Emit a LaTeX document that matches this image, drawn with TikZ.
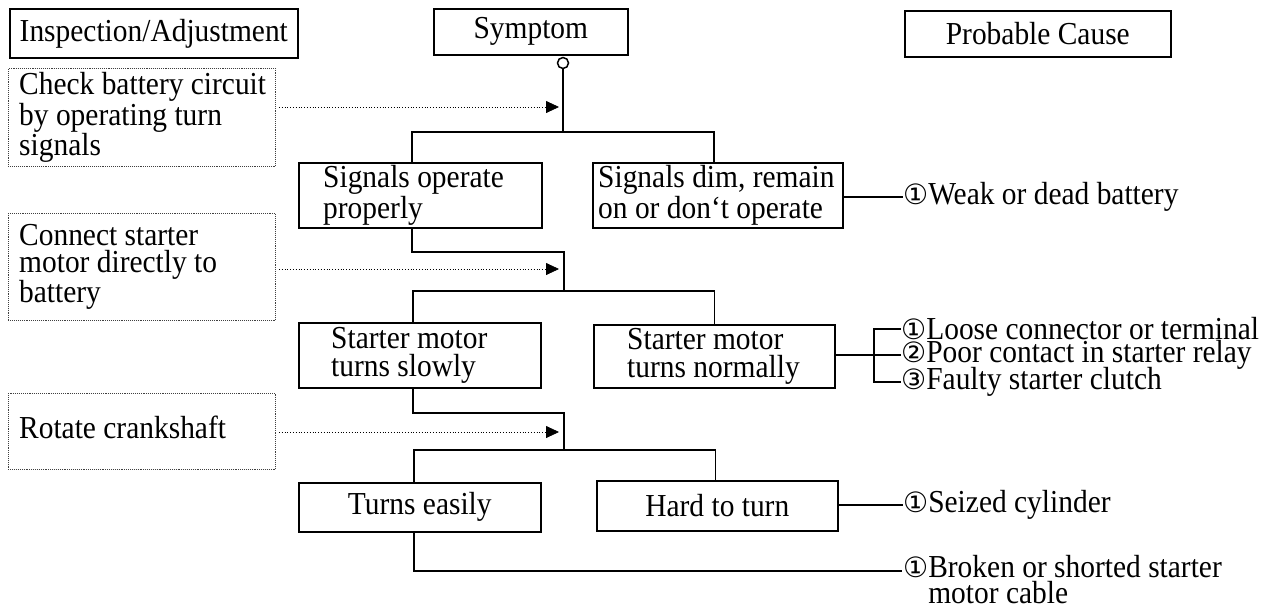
\documentclass[tikz,border=0pt]{standalone}
\usepackage{fontspec}
\setmainfont{Liberation Serif}[FakeStretch=0.92]
\newfontfamily\symfont{DejaVu Sans}
\usetikzlibrary{arrows.meta}
\newcommand\cn[1]{{\symfont\fontsize{28}{28}\selectfont #1}}
\begin{document}
\begin{tikzpicture}[x=1pt,y=-1pt,
  every node/.style={font=\fontsize{32}{27.5}\selectfont},
  hbox/.style={draw, line width=1.6pt, inner sep=0pt, anchor=north west},
  ibox/.style={draw=black!75, densely dotted, line width=0.9pt, inner sep=0pt, anchor=north west},
  txt/.style={inner sep=0pt, anchor=west, align=left},
  cause/.style={inner sep=0pt, anchor=west},
  conn/.style={line width=1.6pt},
  probe/.style={dotted, line width=0.8pt, -{Triangle[length=13pt,width=12pt]}},
]
\useasboundingbox (0,0) rectangle (1270,606);

% headers
\node[hbox, minimum width=288, minimum height=49] (hIA) at (9,8) {Inspection/Adjustment};
\node[hbox, minimum width=194, minimum height=46] (hS) at (433,8) {Symptom};
\node[hbox, minimum width=266, minimum height=46] (hPC) at (904,10) {Probable Cause};

% inspection boxes
\node[ibox, minimum width=267, minimum height=98] (ia1) at (8,68) {};
\node[txt] (ia1t) at ([xshift=11pt]ia1.west) {Check battery circuit\\by operating turn\\signals};
\node[ibox, minimum width=267, minimum height=107] (ia2) at (8,213) {};
\node[txt] (ia2t) at ([xshift=11pt]ia2.west) {Connect starter\\motor directly to\\battery};
\node[ibox, minimum width=267, minimum height=76] (ia3) at (8,393) {};
\node[txt] (ia3t) at ([xshift=11pt,yshift=4pt]ia3.west) {Rotate crankshaft};

% symptom boxes
\node[hbox, minimum width=243, minimum height=65] (L1) at (298,162) {};
\node[txt] (L1t) at ([xshift=25pt]L1.west) {Signals operate\\properly};
\node[hbox, minimum width=250, minimum height=65] (R1) at (592,162) {};
\node[txt] (R1t) at ([xshift=6pt]R1.west) {Signals dim, remain\\on or don‘t operate};

\node[hbox, minimum width=242, minimum height=65] (L2) at (298,322) {};
\node[txt] (L2t) at ([xshift=33pt]L2.west) {Starter motor\\turns slowly};
\node[hbox, minimum width=241, minimum height=63] (R2) at (593,324) {};
\node[txt] (R2t) at ([xshift=34pt]R2.west) {Starter motor\\turns normally};

\node[hbox, minimum width=242, minimum height=49] (L3) at (298,482) {Turns easily};
\node[hbox, minimum width=241, minimum height=50] (R3) at (596,480) {Hard to turn};

% circle under Symptom
\node[circle, draw, line width=1.5pt, fill=white, minimum size=11pt, inner sep=0pt] (o) at (563,63) {};

% tree connectors
\coordinate (j1) at (563,132);
\draw[conn] (o.south) -- (j1);
\draw[conn] ([xshift=-8.5pt]L1.north) |- (j1) -| ([xshift=-4pt]R1.north);

\coordinate (k2) at (564,252);
\coordinate (j2) at (564,291);
\draw[conn] ([xshift=-8.5pt]L1.south) |- (k2) -- (j2);
\draw[conn] ([xshift=-7pt]L2.north) |- (j2) -| (R2.north);

\coordinate (k3) at (564,413);
\coordinate (j3) at (564,450);
\draw[conn] ([xshift=-7pt]L2.south) |- (k3) -- (j3);
\draw[conn] ([xshift=-6pt]L3.north) |- (j3) -| ([xshift=-2pt]R3.north);

% probe arrows
\coordinate (p1) at (559,107);
\coordinate (p2) at (559,269);
\coordinate (p3) at (559,432);
\draw[probe, shorten <=3pt] (ia1.east |- p1) -- (p1);
\draw[probe, shorten <=3pt] (ia2.east |- p2) -- (p2);
\draw[probe, shorten <=3pt] (ia3.east |- p3) -- (p3);

% probable causes
\node[cause] (c1) at (903,197) {\cn{①}Weak or dead battery};
\draw[conn] (R1.east |- c1.west) -- (c1.west);

\coordinate (br) at (874,355);
\node[cause] (c2a) at (901,329) {\cn{①}Loose connector or terminal};
\node[cause] (c2b) at (901,355) {\cn{②}Poor contact in starter relay};
\node[cause] (c2c) at (901,382) {\cn{③}Faulty starter clutch};
\draw[conn] (R2.east |- br) -- (br) -- (c2b.west);
\draw[conn] (c2a.west) -| (br) |- (c2c.west);

\node[cause] (c3) at (903,505) {\cn{①}Seized cylinder};
\draw[conn] (R3.east |- c3.west) -- (c3.west);

\coordinate (c4p) at (902,571);
\node[inner sep=0pt, anchor=north west, align=left, font=\fontsize{32}{26}\selectfont] (c4) at (903,555) {\cn{①}Broken or shorted starter\\\phantom{\cn{①}}motor cable};
\draw[conn] ([xshift=-6pt]L3.south) |- (c4p);
\end{tikzpicture}
\end{document}
